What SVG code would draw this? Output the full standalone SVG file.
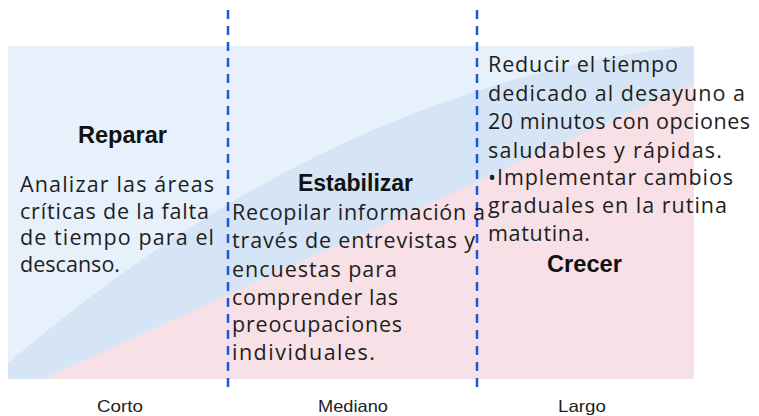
<svg xmlns="http://www.w3.org/2000/svg" width="759" height="416" viewBox="0 0 759 416">
<style>
.body{font-family:"Open Sans","Noto Sans","DejaVu Sans",sans-serif;font-size:21.5px;fill:#1e1e1e}
.head{font-family:"Liberation Sans",Arial,sans-serif;font-size:23px;font-weight:bold;fill:#111111}
.axis{font-family:"Liberation Sans",Arial,sans-serif;font-size:16.5px;fill:#222222}
.div{stroke:#1f55e0;stroke-width:2.5;stroke-dasharray:9 7;fill:none}
</style>
<rect width="759" height="416" fill="#ffffff"/>
<g id="background">
<rect x="8" y="46" width="686" height="333" fill="#e7f1fb"/>
<path d="M8,363 Q340,80 694,46 L694,379 L8,379 Z" fill="#d5e5f6"/>
<path d="M43,379 L694,83 L694,379 Z" fill="#f7e0e6"/>
</g>
<g id="connectors">
<line class="div" x1="228" y1="10" x2="228" y2="388"/>
<line class="div" x1="477" y1="10" x2="477" y2="388"/>
</g>
<g id="reparar">
<text class="head" x="78" y="143" textLength="89" lengthAdjust="spacingAndGlyphs">Reparar</text>
<text class="body" x="20" y="192" textLength="194" lengthAdjust="spacing">Analizar las áreas</text>
<text class="body" x="20" y="218.5" textLength="189" lengthAdjust="spacing">críticas de la falta</text>
<text class="body" x="20" y="245" textLength="194" lengthAdjust="spacing">de tiempo para el</text>
<text class="body" x="20" y="271.5" textLength="100" lengthAdjust="spacing">descanso.</text>
</g>
<g id="estabilizar">
<text class="head" x="298" y="190.5" textLength="115" lengthAdjust="spacingAndGlyphs">Estabilizar</text>
<text class="body" x="232" y="220" textLength="253" lengthAdjust="spacing">Recopilar información a</text>
<text class="body" x="232" y="248" textLength="243" lengthAdjust="spacing">través de entrevistas y</text>
<text class="body" x="232" y="276.5" textLength="165" lengthAdjust="spacing">encuestas para</text>
<text class="body" x="232" y="304.5" textLength="166" lengthAdjust="spacing">comprender las</text>
<text class="body" x="232" y="332" textLength="170" lengthAdjust="spacing">preocupaciones</text>
<text class="body" x="232" y="360" textLength="143" lengthAdjust="spacing">individuales.</text>
</g>
<g id="crecer">
<text class="body" x="488" y="72" textLength="190" lengthAdjust="spacing">Reducir el tiempo</text>
<text class="body" x="488" y="100.5" textLength="257" lengthAdjust="spacing">dedicado al desayuno a</text>
<text class="body" x="488" y="129" textLength="262" lengthAdjust="spacing">20 minutos con opciones</text>
<text class="body" x="488" y="157.5" textLength="234" lengthAdjust="spacing">saludables y rápidas.</text>
<text class="body" x="488" y="185" textLength="245" lengthAdjust="spacing">•Implementar cambios</text>
<text class="body" x="488" y="213" textLength="239" lengthAdjust="spacing">graduales en la rutina</text>
<text class="body" x="488" y="241" textLength="102" lengthAdjust="spacing">matutina.</text>
<text class="head" x="547" y="271.5" textLength="75" lengthAdjust="spacingAndGlyphs">Crecer</text>
</g>
<g id="axis">
<text class="axis" x="97" y="412" textLength="46" lengthAdjust="spacingAndGlyphs">Corto</text>
<text class="axis" x="318" y="412" textLength="70" lengthAdjust="spacingAndGlyphs">Mediano</text>
<text class="axis" x="558" y="412" textLength="48" lengthAdjust="spacingAndGlyphs">Largo</text>
</g>
</svg>
